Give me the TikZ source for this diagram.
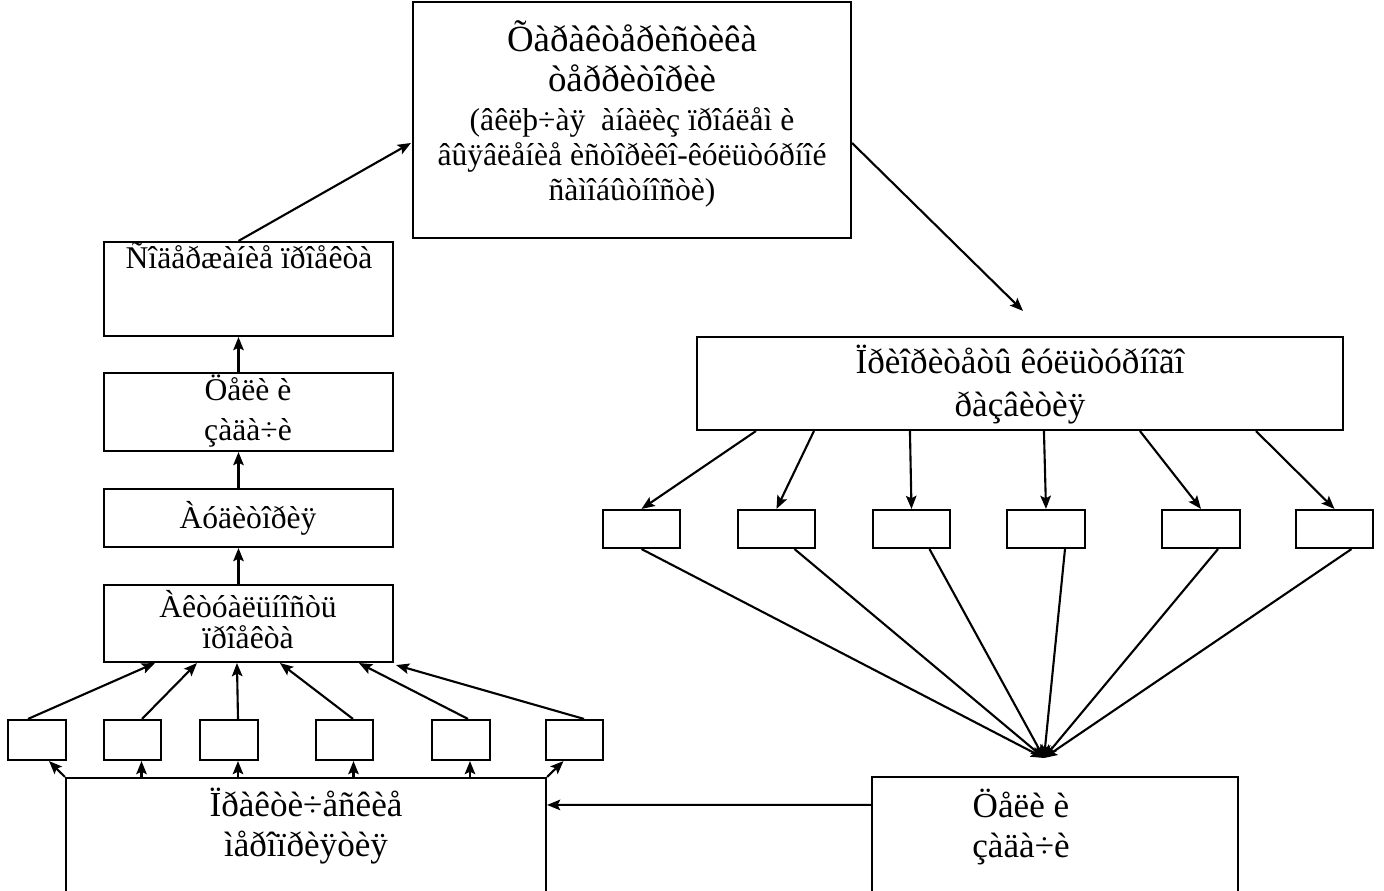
\documentclass[tikz,border=0pt]{standalone}
\usepackage{fontspec}
\setmainfont{Liberation Serif}
\usetikzlibrary{arrows.meta,calc,fit}
\begin{document}
\begin{tikzpicture}[x=0.02cm,y=-0.02cm,
  box/.style={draw,line width=1.2pt,inner sep=0pt},
  arr/.style={line width=1.2pt,-{Stealth[length=7.5pt,width=6pt,inset=1.5pt]}},
  tt/.style={anchor=base,inner sep=0pt,font=\fontsize{21}{24}\selectfont},
  tb/.style={anchor=base,inner sep=0pt,font=\fontsize{20}{23}\selectfont},
  ts/.style={anchor=base,inner sep=0pt,font=\fontsize{18}{21}\selectfont}]
\useasboundingbox (0,0) rectangle (1384,891);
% boxes
\node[box,fit={(413,2) (851,238)}] (top) {};
\node[box,fit={(104,242) (393,336)}] (c1) {};
\node[box,fit={(104,373) (393,451)}] (c2) {};
\node[box,fit={(104,489) (393,547)}] (c3) {};
\node[box,fit={(104,585) (393,662)}] (c4) {};
\node[box,fit={(8,720) (66,760)}] (L1) {};
\node[box,fit={(104,720) (161,760)}] (L2) {};
\node[box,fit={(200,720) (258,760)}] (L3) {};
\node[box,fit={(316,720) (373,760)}] (L4) {};
\node[box,fit={(432,720) (490,760)}] (L5) {};
\node[box,fit={(546,720) (603,760)}] (L6) {};
\node[box,fit={(66,778) (546,905)}] (B1) {};
\node[box,fit={(697,337) (1343,430)}] (R) {};
\node[box,fit={(603,510) (680,548)}] (S1) {};
\node[box,fit={(738,510) (815,548)}] (S2) {};
\node[box,fit={(873,510) (950,548)}] (S3) {};
\node[box,fit={(1007,510) (1085,548)}] (S4) {};
\node[box,fit={(1162,510) (1240,548)}] (S5) {};
\node[box,fit={(1296,510) (1373,548)}] (S6) {};
\node[box,fit={(872,777) (1238,905)}] (B2) {};
% texts
\node[tt] (t1) at (632,52) {Õàðàêòåðèñòèêà};
\node[tt] (t2) at (632,92) {òåððèòîðèè};
\node[ts] (t3) at (632,131) {(âêëþ÷àÿ\ \ àíàëèç ïðîáëåì è};
\node[ts] (t4) at (632,166) {âûÿâëåíèå èñòîðèêî-êóëüòóðíîé};
\node[ts] (t5) at (632,201) {ñàìîáûòíîñòè)};
\node[ts] (tc1) at (249,269) {Ñîäåðæàíèå ïðîåêòà};
\node[ts] (tc2a) at (248,401) {Öåëè è};
\node[ts] (tc2b) at (248,441) {çàäà÷è};
\node[ts] (tc3) at (248,529) {Àóäèòîðèÿ};
\node[ts] (tc4a) at (248,618) {Àêòóàëüíîñòü};
\node[ts] (tc4b) at (248,649) {ïðîåêòà};
\node[tb] (tRa) at (1020,374) {Ïðèîðèòåòû êóëüòóðíîãî};
\node[tb] (tRb) at (1020,417) {ðàçâèòèÿ};
\node[tb] (tB1a) at (306,817) {Ïðàêòè÷åñêèå};
\node[tb] (tB1b) at (306,857) {ìåðîïðèÿòèÿ};
\node[tb] (tB2a) at (1021,818) {Öåëè è};
\node[tb] (tB2b) at (1021,858) {çàäà÷è};
% connectors
\draw[arr] ($(c1.north)+(-10,0)$) -- ($(top.west)+(-1,23)$);
\coordinate (tipR) at ($(R.north)+(3,-25)$);
\draw[arr] ($(top.east)+(0,23)$) -- (tipR);
\draw[arr] ($(c2.north)+(-10,0)$) -- ($(c1.south)+(-10,0)$);
\draw[arr] ($(c3.north)+(-10,0)$) -- ($(c2.south)+(-10,0)$);
\draw[arr] ($(c4.north)+(-10,0)$) -- ($(c3.south)+(-10,0)$);
\foreach \i/\sx in {1/757,2/815,3/911,4/1045,5/1141,6/1257}
  \draw[arr] ($(R.south west)+(\sx-697,0)$) -- (S\i.north);
\coordinate (conv) at (1044,758);
\foreach \i/\o in {1/0,2/18,3/18,4/19,5/17,6/17}
  \draw[arr] ($(S\i.south)+(\o,0)$) -- (conv);
\draw[arr] ($(B2.north west)+(0,29)$) -- ($(B1.north east)+(0,28)$);
\draw[arr] (B1.north west) -- ($(L1.south)+(12,0)$);
\foreach \i in {2,3,4,5}
  \draw[arr] ($(L\i.south)+(9,18)$) -- ($(L\i.south)+(9,0)$);
\draw[arr] (B1.north east) -- ($(L6.south)+(-11,0)$);
\foreach \i/\o/\e in {1/-9/52,2/9.5/94,3/9/134,4/8.5/177,5/7/256}
  \draw[arr] ($(L\i.north)+(\o,0)$) -- ($(c4.south west)+(\e,0)$);
\draw[arr] ($(L6.north)+(9.5,0)$) -- ($(c4.south east)+(2,2)$);
\end{tikzpicture}
\end{document}
